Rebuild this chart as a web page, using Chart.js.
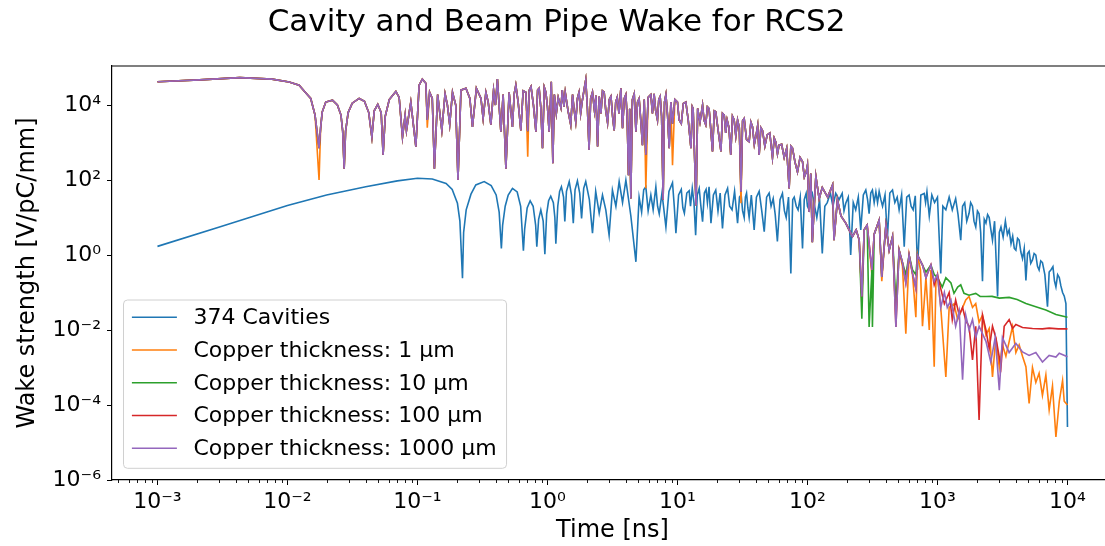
<!DOCTYPE html>
<html>
<head>
<meta charset="utf-8">
<title>Cavity and Beam Pipe Wake for RCS2</title>
<script src="https://cdn.jsdelivr.net/npm/chart.js@4.4.1/dist/chart.umd.min.js"></script>
<style>
  html, body { margin: 0; padding: 0; background: #fff; overflow: hidden; }
  #wake { display: block; }
</style>
</head>
<body>
<canvas id="wake" width="1128" height="546"></canvas>
<script>
// time in ns, wake in V/pC/mm
const cavityTime = [
    0.001, 0.003, 0.01, 0.02, 0.04, 0.07, 0.1, 0.13, 0.166, 0.185,
    0.203, 0.212, 0.222, 0.2265, 0.237, 0.258, 0.281, 0.326, 0.369, 0.403,
    0.425, 0.442, 0.452, 0.473, 0.499, 0.538, 0.585, 0.622, 0.653, 0.668,
    0.698, 0.736, 0.776, 0.811, 0.828, 0.855, 0.889, 0.927, 0.955, 0.986,
    1.02, 1.06, 1.11, 1.14, 1.16, 1.20, 1.24, 1.28, 1.33, 1.36,
    1.40, 1.47, 1.53, 1.58, 1.63, 1.70, 1.77, 1.83, 1.90, 1.97,
    2.10, 2.22, 2.35, 2.50, 2.65, 2.81, 2.98, 3.16, 3.36, 3.56,
    3.78, 4.01, 4.38, 4.79, 5.07, 5.30, 5.50, 5.71, 5.95, 6.24,
    6.50, 6.82, 7.03, 7.24, 7.60, 8.15, 8.60, 9.16, 9.45, 9.73,
    10.2, 10.7, 11.0, 11.3, 11.8, 12.3, 12.6, 13.0, 13.4, 13.8,
    14.2, 14.7, 15.1, 15.6, 16.1, 16.6, 17.0, 17.5, 18.1, 18.9,
    19.7, 20.5, 21.3, 22.2, 23.2, 24.3, 25.2, 26.3, 27.5, 29.0,
    30.0, 30.9, 31.7, 32.6, 33.3, 34.0, 34.8, 35.6, 37.0, 38.9,
    40.5, 42.5, 44.5, 46.5, 48.5, 50.7, 52.5, 54.5, 56.5, 58.7,
    61.5, 64.2, 66.5, 68.6, 71.5, 74.5, 77, 79.1, 82, 84.7,
    88, 91.6, 94.5, 97.7, 100, 103, 106, 109, 113, 118,
    124, 130, 136, 142, 150, 157, 165, 175, 185, 191,
    197, 206, 215, 225, 235, 246, 257, 269, 281, 290,
    298, 307, 316, 326, 336, 346, 356, 367, 378, 395,
    412, 430, 451, 470, 490, 507, 530, 555, 580, 605,
    627, 650, 675, 702, 745, 791, 810, 830, 865, 905,
    950, 1000, 1060, 1100, 1160, 1230, 1300, 1380, 1440, 1510,
    1560, 1620, 1680, 1750, 1800, 1860, 1910, 1970, 2030, 2090,
    2150, 2220, 2290, 2360, 2430, 2500, 2570, 2650, 2750, 2900,
    2990, 3080, 3200, 3330, 3450, 3560, 3680, 3790, 3900, 4010,
    4130, 4250, 4380, 4510, 4650, 4790, 4930, 5070, 5220, 5380,
    5540, 5710, 5880, 6050, 6230, 6420, 6700, 7020, 7230, 7450,
    7730, 7950, 8150, 8400, 8650, 8900, 9170, 9450, 9730, 10000
];
const cavityWake = [
    1.7, 5.6, 21, 40, 66, 95, 112, 107, 81, 56,
    24, 8, 0.24, 4, 16, 42, 74, 91, 71, 40,
    14, 1.5, 6.3, 20, 40, 60, 48, 20, 1.3, 5,
    18, 28, 20, 6.3, 1.66, 9, 16, 8, 1.05, 12.6,
    28, 37, 25, 10, 2.0, 20, 50, 66, 35, 7.8,
    50, 91, 40, 7.1, 55, 95, 45, 9.5, 60, 91,
    30, 3.8, 50, 13, 40, 16, 3.4, 54, 20, 91,
    25, 100, 11, 0.66, 35, 14, 55, 66, 15, 40,
    16, 66, 20, 12.6, 45, 5.6, 50, 85, 20, 3.8,
    40, 56, 18, 13, 45, 52, 20, 60, 25, 3.4,
    40, 60, 22, 7.8, 45, 56, 25, 66, 7.1, 40,
    54, 15, 45, 5.1, 40, 60, 20, 16, 50, 7.1,
    35, 40, 15, 10, 35, 45, 18, 10, 40, 4.7,
    35, 50, 15, 4.2, 35, 45, 20, 32, 12, 2.3,
    30, 44, 15, 10, 35, 0.32, 30, 35, 20, 16,
    35, 1.5, 30, 44, 20, 16, 35, 44, 22, 10,
    30, 1.1, 20, 25, 45, 20, 44, 30, 44, 15,
    24, 35, 1.0, 25, 16, 35, 4.7, 40, 54, 30,
    12.6, 45, 54, 25, 48, 25, 50, 30, 20, 40,
    2.8, 45, 54, 25, 35, 16, 40, 1.66, 35, 40,
    20, 16, 38, 0.4, 40, 44, 25, 49, 11, 40,
    25, 35, 0.32, 20, 16, 35, 16, 32, 12, 2.5,
    20, 25, 8, 13, 25, 20, 8, 5.6, 15, 12.6,
    4, 0.2, 9, 7.1, 12, 10, 5, 2.5, 8, 0.078,
    4, 5.6, 3, 8, 3.5, 4.7, 2, 3.2, 1.5, 1.35,
    2.8, 2.5, 1.2, 0.8, 1.5, 0.21, 1.1, 1.26, 0.6, 0.74,
    1.1, 1.0, 0.5, 0.4, 0.7, 0.63, 0.3, 0.042, 0.35, 0.4,
    0.49, 0.2, 0.14, 0.3, 0.25, 0.15, 0.1, 0.08, 0.051, 2.6e-5
];

// common part of the four copper curves (up to ~220 ns)
const copperTime = [
    0.001, 0.0021, 0.0043, 0.0076, 0.0103, 0.0123, 0.0137, 0.0151, 0.0163, 0.0175,
    0.018, 0.0185, 0.0197, 0.0222, 0.0242, 0.0258, 0.0266, 0.0273, 0.028, 0.0293,
    0.0315, 0.0356, 0.0391, 0.0422, 0.0446, 0.0465, 0.0495, 0.0526, 0.0544, 0.0565,
    0.0607, 0.0682, 0.0723, 0.0767, 0.0804, 0.0823, 0.0889, 0.0972, 0.103, 0.109,
    0.116, 0.119, 0.124, 0.130, 0.135, 0.143, 0.154, 0.163, 0.170, 0.177,
    0.186, 0.197, 0.205, 0.216, 0.236, 0.253, 0.265, 0.284, 0.308, 0.320,
    0.336, 0.350, 0.367, 0.385, 0.398, 0.412, 0.438, 0.456, 0.479, 0.507,
    0.538, 0.555, 0.571, 0.595, 0.624, 0.650, 0.682, 0.705, 0.725, 0.747,
    0.780, 0.815, 0.840, 0.863, 0.890, 0.916, 0.945, 0.972, 1.00, 1.03,
    1.07, 1.10, 1.13, 1.17, 1.21, 1.27, 1.30, 1.34, 1.37, 1.44,
    1.51, 1.56, 1.60, 1.65, 1.70, 1.75, 1.80, 1.85, 1.91, 1.97,
    2.03, 2.09, 2.15, 2.22, 2.30, 2.36, 2.43, 2.50, 2.58, 2.65,
    2.73, 2.81, 2.90, 2.99, 3.08, 3.17, 3.26, 3.35, 3.44, 3.55,
    3.67, 3.78, 3.90, 4.01, 4.10, 4.20, 4.29, 4.38, 4.50, 4.65,
    4.79, 4.93, 5.07, 5.22, 5.38, 5.55, 5.71, 5.95, 6.24, 6.42,
    6.61, 6.80, 7.02, 7.18, 7.36, 7.55, 7.76, 7.95, 8.15, 8.40,
    8.64, 8.90, 9.16, 9.55, 10.0, 10.3, 10.7, 11.1, 11.6, 12.1,
    12.7, 13.0, 13.2, 13.9, 14.3, 14.9, 15.6, 16.0, 16.5, 17.0,
    17.5, 18.0, 18.6, 19.2, 19.7, 20.6, 21.6, 22.2, 22.9, 23.5,
    24.1, 24.9, 25.7, 26.5, 27.3, 28.1, 29.0, 29.9, 30.8, 31.7,
    32.6, 34.0, 35.6, 36.7, 37.8, 39.0, 40.3, 41.4, 42.5, 43.8,
    45.1, 47.0, 49.0, 51.3, 53.8, 55.5, 57.2, 58.8, 60.5, 63.3,
    66.2, 69.2, 72.3, 74.5, 76.7, 80.2, 83.8, 87.7, 91.6, 94.6,
    97.7, 100, 103, 106, 109, 116, 123, 130, 143, 156,
    160, 170, 181, 197, 209, 222
];
const copperWake = [
    4.2e4, 4.7e4, 5.4e4, 4.9e4, 4.1e4, 3.4e4, 2.2e4, 1.5e4, 5400, 710,
    2500, 6500, 1.2e4, 1.35e4, 1e4, 5400, 2000, 200, 2000, 6300,
    1.12e4, 1.5e4, 1.26e4, 6300, 1400, 7000, 1.05e4, 6300, 470, 5000,
    1.4e4, 2.3e4, 1.6e4, 1400, 5400, 2100, 1.2e4, 780, 3.4e4, 4.9e4,
    3.8e4, 4000, 2.2e4, 1.5e4, 200, 1.9e4, 2100, 2e4, 1e4, 3000,
    2.2e4, 1e4, 100, 2.5e4, 2.8e4, 1.5e4, 2600, 2.8e4, 1.5e4, 4400,
    2.2e4, 1.2e4, 3000, 2.5e4, 1e4, 4.9e4, 1950, 1.9e4, 200, 2.2e4,
    2600, 2e4, 3.4e4, 1.2e4, 2100, 2.4e4, 2.2e4, 2000, 2.5e4, 3.1e4,
    1e4, 1950, 2.5e4, 2.8e4, 8000, 710, 3e4, 2.2e4, 9000, 1950,
    4.2e4, 280, 1.9e4, 6000, 1.6e4, 8500, 2.5e4, 9000, 2.2e4, 7000,
    3000, 1.9e4, 8000, 3600, 1.5e4, 2.2e4, 6000, 1.26e4, 2.5e4, 4.7e4,
    8000, 630, 1.5e4, 2.2e4, 7000, 1.8e4, 780, 1.7e4, 6000, 2.4e4,
    2.2e4, 7000, 3400, 1.4e4, 1.7e4, 5000, 2100, 1.2e4, 1.6e4, 6000,
    2.8e4, 2400, 1.5e4, 1.9e4, 5000, 135, 8000, 32, 1.4e4, 2e4,
    1950, 1.2e4, 1.5e4, 4000, 850, 1.4e4, 470, 1.6e4, 1.9e4, 6000,
    2e4, 7000, 4000, 1.4e4, 1.7e4, 5000, 30, 1.2e4, 1.9e4, 5000,
    710, 1.2e4, 3200, 1.4e4, 1.2e4, 4000, 3200, 1.1e4, 1.2e4, 4000,
    710, 9000, 8000, 21, 8100, 3500, 1e4, 4000, 3000, 9000,
    8100, 2500, 580, 7000, 6600, 2000, 580, 6000, 5400, 1800,
    4000, 2500, 470, 5000, 4000, 1500, 4000, 2500, 49, 3800,
    4400, 1200, 1050, 3500, 2600, 900, 1600, 2800, 470, 2500,
    2100, 800, 1600, 1800, 400, 1300, 1000, 500, 850, 900,
    400, 700, 60, 800, 710, 300, 165, 400, 310, 120,
    160, 250, 14, 150, 2.2, 126, 32, 63, 35, 74,
    2.5, 30, 11, 7.1, 4.7, 3.1
];
// deeper dips of the 1 µm curve inside the common part
const thin1DipTime = [0.0175, 0.119, 0.705, 5.71, 9.16, 30.8];
const thin1DipWake = [100, 2500, 420, 60, 250, 24];

// tails, where the copper curves separate
const tail1Time = [
    237, 250, 262, 273, 288, 313, 326, 356, 373, 401,
    425, 451, 479, 507, 538, 571, 605, 643, 682, 702,
    740, 767, 815, 865, 890, 944, 973, 1000, 1060, 1160,
    1230, 1340, 1430, 1650, 1750, 1860, 1970, 2090, 2220, 2360,
    2500, 2650, 2810, 2990, 3160, 3360, 3780, 4010, 4250, 4510,
    4790, 5070, 5380, 5710, 6050, 6420, 6820, 7230, 7670, 8150,
    8650, 9170, 9440, 10000
];
const tail1Wake = [
    4.7, 2.5, 0.05, 4.7, 6.3, 0.3, 3.6, 8.5, 0.2, 6.3,
    1.35, 3.1, 0.02, 1.35, 0.5, 8e-3, 1.0, 0.3, 0.022, 1.0,
    0.4, 0.0126, 0.25, 0.01, 0.4, 1.05e-3, 0.2, 0.3, 0.04, 5.6e-4,
    0.04, 0.05, 0.019, 0.063, 0.078, 0.04, 0.051, 0.016, 0.025, 7.4e-3,
    0.011, 5.6e-4, 6.3e-3, 1e-3, 4e-3, 2e-3, 0.0123, 2.5e-3, 4e-3, 2e-3,
    1.05e-3, 1.1e-4, 1e-3, 4e-4, 7e-4, 1.8e-4, 6.3e-4, 7.4e-5, 3.2e-4, 1.4e-5,
    1.26e-4, 4.5e-4, 1.26e-4, 1e-4
];
const tail10Time = [
    237, 250, 262, 273, 288, 298, 313, 316, 326, 356,
    373, 401, 425, 451, 479, 507, 538, 571, 605, 643,
    682, 702, 767, 815, 890, 944, 1000, 1090, 1160, 1270,
    1340, 1430, 1510, 1600, 1750, 1970, 2130, 2360, 2630, 2990,
    3560, 4100, 4790, 5710, 6820, 8150, 10000
];
const tail10Wake = [
    4.7, 2.5, 0.02, 4.7, 6.3, 0.012, 0.4, 0.012, 3.6, 8.5,
    0.26, 6.3, 1.35, 3.1, 0.05, 1.35, 0.63, 0.3, 1.0, 0.4,
    0.3, 1.0, 0.54, 0.35, 0.54, 0.3, 0.25, 0.14, 0.25, 0.18,
    0.095, 0.14, 0.16, 0.095, 0.085, 0.095, 0.079, 0.078, 0.079, 0.071,
    0.074, 0.065, 0.051, 0.042, 0.034, 0.026, 0.022
];
const tail100Time = [
    237, 250, 262, 273, 288, 313, 326, 356, 373, 401,
    425, 451, 479, 507, 538, 571, 605, 643, 682, 702,
    767, 815, 890, 944, 1000, 1130, 1230, 1300, 1380, 1470,
    1560, 1650, 1750, 1860, 1970, 2090, 2220, 2360, 2500, 2650,
    2810, 3080, 3260, 3560, 3780, 4010, 4510, 5380, 6420, 7230,
    8500, 10000
];
const tail100Wake = [
    4.7, 2.5, 0.078, 4.7, 6.3, 0.4, 3.6, 8.5, 0.26, 6.3,
    1.35, 3.1, 0.012, 1.35, 0.63, 0.18, 1.0, 0.32, 0.13, 1.0,
    0.54, 0.25, 0.54, 0.16, 0.3, 0.05, 0.1, 0.019, 0.063, 0.025,
    0.04, 0.018, 0.0126, 1.6e-3, 0.0126, 4e-5, 0.025, 0.01, 3.2e-3, 0.0126,
    6.3e-3, 1.05e-3, 0.0126, 0.019, 0.011, 0.014, 0.0117, 0.011, 0.0107, 0.0112,
    0.0107, 0.0107
];
const tail1000Time = [
    237, 250, 262, 273, 288, 313, 326, 356, 373, 401,
    425, 451, 479, 507, 538, 571, 605, 643, 682, 702,
    767, 815, 890, 944, 1000, 1060, 1130, 1190, 1270, 1380,
    1470, 1560, 1650, 1750, 1860, 1970, 2090, 2360, 2570, 2780,
    2990, 3160, 3560, 4010, 4510, 5070, 5710, 6420, 7230, 8150,
    8650, 10000
];
const tail1000Wake = [
    4.7, 2.5, 0.078, 4.7, 6.3, 0.4, 3.6, 8.5, 0.26, 6.3,
    1.35, 3.1, 0.012, 1.35, 0.63, 0.18, 1.0, 0.32, 0.13, 1.0,
    0.54, 0.25, 0.54, 0.2, 0.3, 0.04, 0.1, 0.04, 0.063, 0.0126,
    0.032, 4.7e-4, 0.025, 0.01, 0.019, 6.3e-3, 0.0126, 5e-3, 1.4e-3, 6.3e-3,
    2.5e-4, 6.3e-3, 2.5e-3, 4.4e-3, 2.6e-3, 2.1e-3, 2.5e-3, 1.4e-3, 2.1e-3, 1.9e-3,
    2.4e-3, 1.95e-3
];

const seriesLabels = ['374 Cavities', 'Copper thickness: 1 µm', 'Copper thickness: 10 µm',
    'Copper thickness: 100 µm', 'Copper thickness: 1000 µm'];
const seriesColors = ['#1f77b4', '#ff7f0e', '#2ca02c', '#d62728', '#9467bd'];

const xTickValues = [1e-3, 1e-2, 1e-1, 1e0, 1e1, 1e2, 1e3, 1e4];
const xTickLabels = ['10⁻³', '10⁻²', '10⁻¹', '10⁰', '10¹', '10²', '10³', '10⁴'];
const yTickValues = [1e-6, 1e-4, 1e-2, 1e0, 1e2, 1e4];
const yTickLabels = ['10⁻⁶', '10⁻⁴', '10⁻²', '10⁰', '10²', '10⁴'];

function toPoints(times, values) {
    return times.map((t, i) => ({ x: t, y: values[i] }));
}

function copperWith(tailTime, tailWake, dipTime, dipWake) {
    const early = copperTime.map((t, i) => {
        const k = dipTime ? dipTime.indexOf(t) : -1;
        return { x: t, y: k >= 0 ? dipWake[k] : copperWake[i] };
    });
    return early.concat(toPoints(tailTime, tailWake));
}

const seriesData = [
    toPoints(cavityTime, cavityWake),
    copperWith(tail1Time, tail1Wake, thin1DipTime, thin1DipWake),
    copperWith(tail10Time, tail10Wake),
    copperWith(tail100Time, tail100Wake),
    copperWith(tail1000Time, tail1000Wake)
];

Chart.defaults.font.family = '"DejaVu Sans", sans-serif';
Chart.defaults.color = '#000';

// top spine, minor x ticks and the boxed legend
const framePlugin = {
    id: 'frame',
    afterDatasetsDraw(chart) {
        const { ctx, chartArea: area } = chart;
        const xScale = chart.scales.x;
        ctx.save();
        ctx.strokeStyle = '#000';
        ctx.lineWidth = 1.2;
        ctx.beginPath();
        ctx.moveTo(area.left, area.top);
        ctx.lineTo(area.right, area.top);
        ctx.lineTo(area.right, area.bottom);
        ctx.stroke();

        ctx.lineWidth = 0.9;
        for (let k = -4; k <= 4; k++) {
            for (let m = 2; m <= 9; m++) {
                const v = m * Math.pow(10, k);
                if (v < xScale.min || v > xScale.max) continue;
                const px = Math.round(xScale.getPixelForValue(v)) + 0.5;
                ctx.beginPath();
                ctx.moveTo(px, area.bottom);
                ctx.lineTo(px, area.bottom + 3);
                ctx.stroke();
            }
        }

        ctx.font = '22px "DejaVu Sans"';
        const sets = chart.data.datasets;
        const textW = Math.max(...sets.map(d => ctx.measureText(d.label).width));
        const rowH = 32.75;
        const bh = 168.3;
        const bx = area.left + 11.5;
        const by = area.bottom - 11.7 - bh;
        const bw = 70 + textW + 10;
        ctx.beginPath();
        ctx.roundRect(bx, by, bw, bh, 4);
        ctx.fillStyle = 'rgba(255,255,255,0.8)';
        ctx.fill();
        ctx.strokeStyle = '#d0d0d0';
        ctx.lineWidth = 1;
        ctx.stroke();
        ctx.textBaseline = 'middle';
        ctx.textAlign = 'left';
        sets.forEach((d, i) => {
            const y = by + 17.3 + i * rowH;
            ctx.strokeStyle = d.borderColor;
            ctx.lineWidth = 1.4;
            ctx.beginPath();
            ctx.moveTo(bx + 8.4, y);
            ctx.lineTo(bx + 53.4, y);
            ctx.stroke();
            ctx.fillStyle = '#000';
            ctx.fillText(d.label, bx + 70, y + 1);
        });
        ctx.restore();
    }
};

const ctx = document.getElementById('wake').getContext('2d');
new Chart(ctx, {
    type: 'line',
    data: {
        datasets: seriesData.map((pts, i) => ({
            label: seriesLabels[i],
            data: pts,
            borderColor: seriesColors[i],
            backgroundColor: seriesColors[i],
            borderWidth: 1.6,
            pointRadius: 0,
            tension: 0,
            fill: false,
            // matplotlib draws later lines on top
            order: seriesData.length - 1 - i
        }))
    },
    options: {
        responsive: false,
        animation: false,
        events: [],
        layout: { padding: { left: 0, right: 15, top: 0, bottom: 0 } },
        plugins: {
            legend: { display: false },
            tooltip: { enabled: false },
            title: {
                display: true,
                text: 'Cavity and Beam Pipe Wake for RCS2',
                font: { size: 31, weight: 'normal' },
                color: '#000',
                padding: { top: 4, bottom: 24.8 }
            }
        },
        scales: {
            x: {
                type: 'logarithmic',
                min: 4.47e-4,
                max: 2.24e4,
                afterFit: s => { s.height = 66; },
                afterBuildTicks: s => { s.ticks = xTickValues.map(v => ({ value: v })); },
                ticks: {
                    autoSkip: false,
                    maxRotation: 0,
                    padding: 3.8,
                    font: { size: 22 },
                    callback: (v, i) => xTickLabels[i]
                },
                grid: { drawOnChartArea: false, drawTicks: true, tickLength: 5, tickColor: '#000', tickWidth: 1 },
                border: { display: true, color: '#000', width: 1.2 },
                title: { display: true, text: 'Time [ns]', font: { size: 24 }, padding: { top: 0, bottom: 0.6 } }
            },
            y: {
                type: 'logarithmic',
                min: 1e-6,
                max: 1.1e5,
                afterFit: s => { s.width = 112; },
                afterBuildTicks: s => { s.ticks = yTickValues.map(v => ({ value: v })); },
                ticks: {
                    autoSkip: false,
                    padding: 6,
                    font: { size: 22 },
                    callback: (v, i) => yTickLabels[i]
                },
                grid: { drawOnChartArea: false, drawTicks: true, tickLength: 5, tickColor: '#000', tickWidth: 1 },
                border: { display: true, color: '#000', width: 1.2 },
                title: { display: true, text: 'Wake strength [V/pC/mm]', font: { size: 24 }, padding: { top: 13.6, bottom: 0 } }
            }
        }
    },
    plugins: [framePlugin]
});
</script>
</body>
</html>
